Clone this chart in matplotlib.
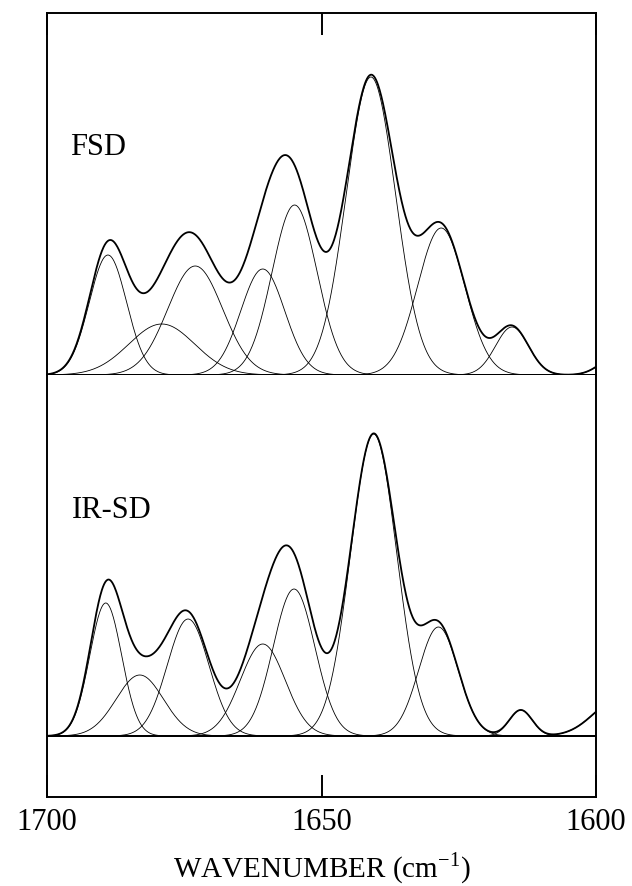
import numpy as np
import matplotlib
matplotlib.use("Agg")
import matplotlib.pyplot as plt

plt.rcParams['font.family'] = ['Liberation Serif', 'DejaVu Serif']

# band parameters (centre cm-1, height, gaussian sigma cm-1)
fsd_centre = [1688.9, 1679.1, 1673.0, 1660.7, 1654.9, 1641.0, 1628.2, 1615.3, 1596.0]
fsd_height = [120, 51, 109, 106, 170, 298, 147, 48, 20]
fsd_sigma = [3.4, 6.0, 5.0, 4.0, 4.1, 4.5, 4.3, 3.0, 3.0]

irsd_centre = [1689.3, 1683.1, 1674.3, 1660.7, 1655.0, 1640.5, 1628.7, 1613.7, 1596.0]
irsd_height = [133, 61, 117, 92, 147, 302, 109, 26, 36]
irsd_sigma = [2.9, 4.3, 3.8, 4.1, 3.8, 4.2, 3.6, 2.1, 4.5]

tick_pos = [1700, 1650, 1600]
tick_lab = ['1700', '1650', '1600']

wn = np.linspace(1700, 1600, 1001)


def band(c, h, s):
    return h * np.exp(-0.5 * ((wn - c) / s) ** 2)


W, H = 632, 886
fig = plt.figure(figsize=(W / 100, H / 100), dpi=100)
left, right = 47 / W, 596 / W
ax1 = fig.add_axes([left, (H - 375) / H, right - left, (375 - 13) / H])
ax2 = fig.add_axes([left, (H - 797) / H, right - left, (797 - 375) / H])

for ax, cs, hs, ss, ymin in [(ax1, fsd_centre, fsd_height, fsd_sigma, 0),
                             (ax2, irsd_centre, irsd_height, irsd_sigma, -61)]:
    total = np.zeros_like(wn)
    for c, h, s in zip(cs, hs, ss):
        y = band(c, h, s)
        total += y
        ax.plot(wn, y, color='black', lw=0.6)
    ax.plot(wn, total, color='black', lw=1.3)
    ax.set_xlim(1700, 1600)
    ax.set_ylim(ymin, ymin + 362 if ax is ax1 else ymin + 422)
    ax.set_yticks([])
    for sp in ax.spines.values():
        sp.set_linewidth(1.4)

ax2.axhline(0, color='black', lw=1.2)
ax2.spines['top'].set_visible(False)

ax1.set_xticks(tick_pos)
ax1.tick_params(axis='x', direction='in', length=16, width=1.4,
                bottom=False, top=True, labelbottom=False)
ax2.set_xticks(tick_pos)
ax2.set_xticklabels(tick_lab)
ax2.tick_params(axis='x', direction='in', length=16, width=1.4,
                labelsize=22, pad=8)

fig.text(0.5 * (left + right), (H - 877) / H, 'WAVENUMBER (cm$^{\\mathregular{-1}}$)',
         fontsize=21, ha='center', va='baseline')

ax1.text(0.042, 0.608, 'FSD', transform=ax1.transAxes, fontsize=22)
ax2.text(0.045, 0.661, 'IR-SD', transform=ax2.transAxes, fontsize=22)

fig.savefig('out.png', dpi=100)
